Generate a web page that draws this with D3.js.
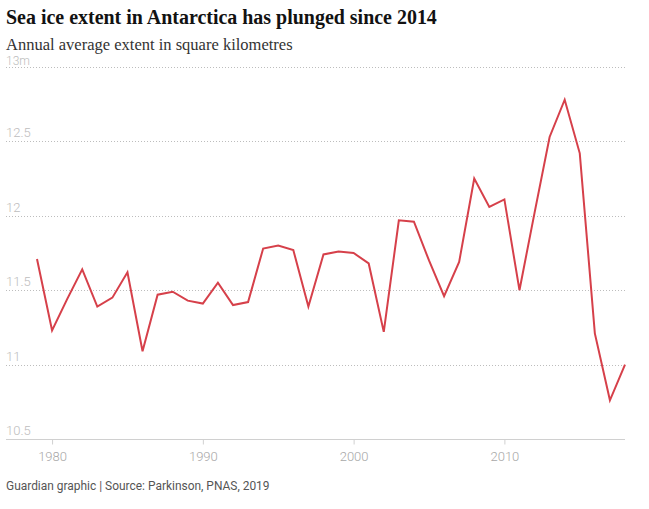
<!DOCTYPE html>
<html><head><meta charset="utf-8">
<script src="https://cdn.jsdelivr.net/npm/d3@7"></script>
<style>body{margin:0;background:#fff;} svg{display:block;}</style>
</head><body>
<script>
const years = d3.range(1979, 2019);
const extent = [11.71,11.23,11.44,11.64,11.39,11.45,11.62,11.09,11.47,11.49,11.43,11.41,11.55,11.40,11.42,11.78,11.80,11.77,11.39,11.74,11.76,11.75,11.68,11.22,11.97,11.96,11.70,11.46,11.69,12.25,12.06,12.11,11.50,12.02,12.53,12.78,12.42,11.21,10.76,11.00];
const yTicks = [10.5, 11, 11.5, 12, 12.5, 13];
const xTicks = [1980, 1990, 2000, 2010];
const titleText = "Sea ice extent in Antarctica has plunged since 2014";
const subtitleText = "Annual average extent in square kilometres";
const sourceText = "Guardian graphic | Source: Parkinson, PNAS, 2019";

const W = 649, H = 509;
const svg = d3.select("body").append("svg").attr("width", W).attr("height", H);

const x = d3.scaleLinear().domain([1979, 2018]).range([37, 625]);
const y = d3.scaleLinear().domain([10.5, 13]).range([439, 67]);

const title = svg.append("text").attr("x", 6).attr("y", 24)
  .attr("font-family", "'Liberation Serif', 'DejaVu Serif', serif")
  .attr("font-weight", "bold").attr("font-size", 21).attr("fill", "#121212")
  .text(titleText);
let tw = title.node().getComputedTextLength();
title.attr("font-size", 21 * 431 / tw);

const sub = svg.append("text").attr("x", 6).attr("y", 49.5)
  .attr("font-family", "'Liberation Serif', 'DejaVu Serif', serif")
  .attr("font-size", 16).attr("fill", "#333")
  .text(subtitleText);
let sw = sub.node().getComputedTextLength();
sub.attr("font-size", 16 * 287 / sw);

// gridlines
svg.append("g").selectAll("line").data(yTicks.filter(d => d > 10.5)).join("line")
  .attr("x1", 6).attr("x2", 625)
  .attr("y1", d => Math.round(y(d)) + 0.5).attr("y2", d => Math.round(y(d)) + 0.5)
  .attr("stroke", "#bdbdbd").attr("stroke-width", 1).attr("stroke-dasharray", "1,2");

// y labels
svg.append("g").selectAll("text").data(yTicks).join("text")
  .attr("x", 6).attr("y", d => d === 13 ? y(d) - 2.5 : y(d) - 4)
  .attr("font-family", "Roboto, 'Liberation Sans', sans-serif").attr("font-weight", 300)
  .attr("font-size", d => d === 13 ? 12 : 13).attr("fill", "#bdbdbd")
  .text(d => d === 13 ? "13m" : d);

// x axis
const xAxis = d3.axisBottom(x).tickValues(xTicks).tickFormat(d3.format("d")).tickSize(5).tickPadding(7);
const gx = svg.append("g").attr("transform", "translate(0,439.5)").call(xAxis);
gx.select(".domain").attr("d", "M6,0H625").attr("stroke", "#d0d0d0");
gx.selectAll(".tick line").attr("stroke", "#d0d0d0");
gx.selectAll(".tick text").attr("font-family", "Roboto, 'Liberation Sans', sans-serif")
  .attr("font-weight", 300).attr("font-size", 13).attr("fill", "#a8a8a8");

// line
const line = d3.line().x((d, i) => x(years[i])).y(d => y(d));
svg.append("path").datum(extent).attr("d", line)
  .attr("fill", "none").attr("stroke", "#d6404a").attr("stroke-width", 2)
  .attr("stroke-linejoin", "miter");

// source
const src = svg.append("text").attr("x", 6).attr("y", 490)
  .attr("font-family", "Roboto, 'Liberation Sans', sans-serif")
  .attr("font-size", 12).attr("fill", "#555")
  .text(sourceText);
let srw = src.node().getComputedTextLength();
src.attr("font-size", 12 * 264 / srw);
</script>
</body></html>
